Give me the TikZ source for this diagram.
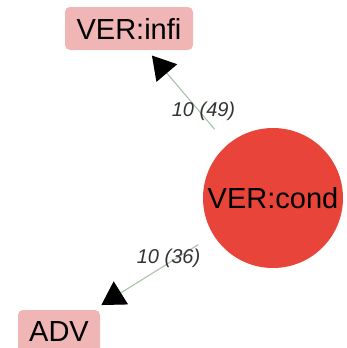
\documentclass[tikz,border=0pt]{standalone}
\usepackage{fontspec}
\setmainfont{Liberation Sans}
\usetikzlibrary{arrows.meta}
\definecolor{boxpink}{HTML}{F0B6B6}
\definecolor{nodered}{HTML}{E8443A}
\definecolor{edgegreen}{HTML}{A8C4A6}
\begin{document}
\begin{tikzpicture}[x=1pt, y=-1pt,
	tagbox/.style={rectangle, rounded corners=5pt, fill=boxpink, inner sep=0pt, minimum height=43pt, font=\fontsize{29}{32}\selectfont},
	tagnode/.style={circle, fill=nodered, inner sep=0pt, minimum size=140pt, font=\fontsize{29}{32}\selectfont},
	rel/.style={draw=edgegreen, line width=1.1pt, -{Triangle[length=23pt, width=27pt, color=black]}},
	relcount/.style={font=\fontsize{20}{22}\selectfont\itshape, text=black!80, inner sep=0pt}]

				\useasboundingbox (0,0) rectangle (347,348);

				\node[tagbox, minimum width=128pt] (infi) at (129,28.5) {VER:infi};
				\node[tagnode] (cond) at (273,198) {VER:cond};
				\node[tagbox, minimum width=82pt] (adv) at (59,331.5) {ADV};

				\draw[rel, shorten <=20pt, shorten >=7pt] (cond) -- node[relcount, pos=0.35, xshift=4pt] {10 (49)} (infi);
				\draw[rel, shorten <=18pt, shorten >=9pt] (cond) -- node[relcount, pos=0.35, xshift=-3pt, yshift=3pt] {10 (36)} (adv);

			\end{tikzpicture}
\end{document}
